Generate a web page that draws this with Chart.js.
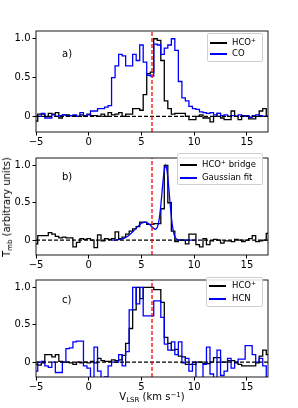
<!DOCTYPE html>
<html>
<head>
<meta charset="utf-8">
<script src="https://cdn.jsdelivr.net/npm/chart.js"></script>
<style>
  body { margin: 0; background: #fff; }
  #wrap { position: relative; width: 298px; height: 408px; overflow: hidden; font-family: "DejaVu Sans", sans-serif; color: #000; }
  canvas { position: absolute; left: 0; }
  .txt { position: absolute; white-space: nowrap; line-height: 1; }
  .lab { font-size: 10px; }
  .leg { position: absolute; border: 1px solid #d0d0d0; border-radius: 2px; background: rgba(255,255,255,0.85); box-sizing: border-box; }
  .ln { position: absolute; height: 1.5px; }
  .lt { position: absolute; font-size: 8.5px; line-height: 1; white-space: nowrap; }
  sup { font-size: 70%; vertical-align: 0.45em; line-height: 0; }
  sub { font-size: 70%; vertical-align: -0.25em; line-height: 0; }
</style>
</head>
<body>
<div id="wrap">
  <canvas id="ca" width="298" height="150" style="top:0px"></canvas>
  <canvas id="cb" width="298" height="122" style="top:150px"></canvas>
  <canvas id="cc" width="298" height="136" style="top:272px"></canvas>

  <div class="txt lab" style="left:62px;top:49px">a)</div>
  <div class="txt lab" style="left:62px;top:172px">b)</div>
  <div class="txt lab" style="left:62px;top:295px">c)</div>

  <div class="leg" style="left:207px;top:33px;width:56px;height:29px"></div>
  <div class="ln" style="left:210px;top:42px;width:17px;background:#000"></div>
  <div class="ln" style="left:210px;top:53px;width:17px;background:#0000ff"></div>
  <div class="lt" style="left:232px;top:38px">HCO<sup>+</sup></div>
  <div class="lt" style="left:232px;top:49px">CO</div>

  <div class="leg" style="left:177px;top:153px;width:86px;height:32px"></div>
  <div class="ln" style="left:180px;top:164px;width:17px;background:#000"></div>
  <div class="ln" style="left:180px;top:177px;width:17px;background:#0000ff"></div>
  <div class="lt" style="left:202px;top:160px">HCO<sup>+</sup> bridge</div>
  <div class="lt" style="left:202px;top:173px">Gaussian fit</div>

  <div class="leg" style="left:206px;top:277px;width:57px;height:30px"></div>
  <div class="ln" style="left:209px;top:285px;width:17px;background:#000"></div>
  <div class="ln" style="left:209px;top:298px;width:17px;background:#0000ff"></div>
  <div class="lt" style="left:232px;top:281px">HCO<sup>+</sup></div>
  <div class="lt" style="left:232px;top:294px">HCN</div>

  <div class="txt lab" style="left:7px;top:207px;transform:translate(-50%,-50%) rotate(-90deg)">T<sub>mb</sub> (arbitrary units)</div>
  <div class="txt lab" style="left:152px;top:392px;transform:translateX(-50%)">V<sub>LSR</sub> (km s<sup>&minus;1</sup>)</div>
</div>
<script>
// channel velocities (km/s)
const velocity = [-5.00,-4.67,-4.33,-4.00,-3.67,-3.33,-3.00,-2.67,-2.33,-2.00,-1.67,-1.33,-1.00,-0.67,-0.33,
  0.00,0.33,0.67,1.00,1.33,1.67,2.00,2.33,2.67,3.00,3.33,3.67,4.00,4.33,4.67,5.00,5.33,5.67,6.00,6.33,6.67,
  7.00,7.33,7.67,8.00,8.33,8.67,9.00,9.33,9.67,10.00,10.33,10.67,11.00,11.33,11.67,12.00,12.33,12.67,13.00,
  13.33,13.67,14.00,14.33,14.67,15.00,15.33,15.67,16.00,16.33,16.67,17.00];

// panel a
const hcoA = [-0.06,0.03,0.03,0.00,0.04,0.03,0.05,-0.02,0.02,0.02,0.01,0.01,0.00,0.02,0.00,
  0.03,0.01,0.01,0.00,0.03,0.00,0.05,0.02,0.03,0.05,0.00,0.03,0.03,0.10,0.10,0.08,0.28,0.55,0.57,1.00,0.98,
  0.72,0.20,0.10,0.03,0.04,0.04,0.04,0.00,-0.04,-0.04,0.00,0.02,-0.02,-0.02,-0.07,0.00,0.04,-0.02,-0.04,
  -0.04,0.07,0.00,-0.04,0.01,0.01,-0.03,-0.03,0.00,0.07,0.10,0.00];
const coA = [0.00,0.00,0.04,-0.02,-0.02,0.02,0.00,0.01,0.02,0.01,0.01,0.02,0.00,0.05,0.01,
  0.02,0.07,0.07,0.10,0.10,0.12,0.14,0.50,0.65,0.80,0.78,0.65,0.65,0.80,0.72,0.92,0.70,0.53,0.52,0.93,0.92,
  0.80,0.88,0.92,1.00,0.85,0.45,0.24,0.20,0.13,0.10,0.09,0.06,0.05,0.04,0.05,0.02,0.04,0.01,0.02,
  0.00,0.01,0.00,0.02,0.00,0.01,-0.01,0.01,0.02,0.01,0.00,0.00];

// panel b
const hcoBridge = [-0.05,0.06,0.06,0.06,0.10,0.08,0.05,0.03,0.04,0.03,0.03,-0.09,-0.03,0.02,0.01,
  0.02,0.00,-0.10,0.07,-0.01,0.02,0.01,0.02,0.11,0.02,0.04,0.08,0.12,0.15,0.18,0.24,0.24,0.21,0.21,0.22,0.22,
  0.42,1.00,0.50,0.12,-0.02,0.00,0.00,-0.05,0.08,0.08,-0.06,-0.09,0.02,-0.06,-0.01,0.01,0.00,-0.04,-0.01,
  -0.01,-0.02,0.01,0.00,-0.02,0.00,0.02,0.06,-0.02,-0.01,0.00,0.09];
const fitVel = [2.2,2.6,3.0,3.4,3.8,4.2,4.6,5.0,5.3,5.6,5.8,6.0,6.2,6.3,6.4,6.5,6.6,6.7,6.8,6.9,
  7.0,7.1,7.2,7.3,7.4,7.5,7.6,7.7,7.8,7.9,8.0,8.1,8.2,8.3,8.4,8.6,9.0,10.2];
const fitVal = [0.000,0.003,0.009,0.026,0.060,0.114,0.177,0.227,0.240,0.227,0.206,0.178,0.153,0.146,0.150,0.171,
  0.218,0.297,0.413,0.560,0.719,0.864,0.967,1.000,0.957,0.844,0.688,0.517,0.358,0.229,0.135,0.072,0.037,0.017,
  0.007,0.001,0.000,0.000];

// panel c
const hcoC = [-0.03,-0.04,-0.01,0.10,0.10,0.07,0.10,0.01,0.00,0.00,-0.01,-0.03,0.00,-0.01,0.00,
  -0.01,0.01,-0.01,0.05,0.02,0.01,0.01,0.03,0.02,0.03,0.09,0.25,0.45,0.70,1.00,0.85,1.00,1.00,1.00,0.97,0.97,
  0.80,0.33,0.25,0.16,0.17,0.08,0.07,-0.03,-0.03,-0.03,0.00,0.00,-0.02,-0.02,0.00,0.06,0.06,0.00,0.00,
  0.02,0.02,-0.01,-0.03,-0.05,-0.05,-0.05,-0.05,-0.01,0.08,0.16,0.10];
const hcnC = [-0.12,0.00,0.01,-0.05,-0.07,0.00,-0.14,-0.14,0.00,0.18,0.19,0.27,0.28,0.28,-0.05,
  -0.08,-0.22,0.20,-0.12,-0.22,-0.20,-0.05,0.00,0.00,0.10,-0.05,0.14,0.70,1.00,0.78,1.00,0.62,0.62,0.62,0.82,0.82,
  0.60,0.24,0.16,0.27,0.10,0.27,-0.01,0.05,-0.12,0.00,-0.22,-0.22,-0.03,0.20,-0.16,-0.22,0.16,-0.18,-0.12,
  0.05,-0.08,0.00,0.04,0.04,0.22,0.22,0.10,0.00,0.05,-0.05,-0.22];

const xTicks = [-5, 0, 5, 10, 15];
const yTicks = [0, 0.5, 1.0];
const vSys = 6;

const toXY = (xs, ys) => xs.map((x, k) => ({x: x, y: ys[k]}));

const frame = {
  id: 'frame',
  afterDraw(chart) {
    const a = chart.chartArea, ctx = chart.ctx;
    ctx.save();
    ctx.strokeStyle = '#000';
    ctx.lineWidth = 0.9;
    ctx.strokeRect(a.left, a.top, a.right - a.left, a.bottom - a.top);
    ctx.restore();
  }
};

function makePanel(id, lines, padTop, xHeight) {
  const datasets = [
    {data: [{x: vSys, y: -0.2}, {x: vSys, y: 1.1}], borderColor: '#ff0000', borderWidth: 1.3, borderDash: [4, 2], order: 0},
    {data: [{x: -5, y: 0}, {x: 17, y: 0}], borderColor: '#000', borderWidth: 1.2, borderDash: [4, 2], order: 1}
  ];
  lines.forEach((l, k) => datasets.push({
    data: l.data, borderColor: l.color, borderWidth: 1.3, stepped: l.stepped ? 'middle' : false,
    tension: 0, order: 10 - k
  }));
  new Chart(document.getElementById(id), {
    type: 'line',
    data: {datasets},
    options: {
      responsive: false, animation: false, devicePixelRatio: 1,
      layout: {padding: {left: 0, right: 30, top: padTop, bottom: 0}},
      plugins: {legend: {display: false}, tooltip: {enabled: false}},
      elements: {point: {radius: 0}},
      scales: {
        x: {
          type: 'linear', min: -5, max: 17,
          afterBuildTicks: s => { s.ticks = xTicks.map(v => ({value: v})); },
          afterFit: s => { s.height = xHeight; },
          ticks: {color: '#000', font: {family: 'DejaVu Sans', size: 10}, padding: 1, maxRotation: 0, autoSkip: false,
            callback: v => (v < 0 ? '\u2212' + Math.abs(v) : String(v))},
          grid: {drawOnChartArea: false, tickLength: 3.5, color: '#000'},
          border: {display: false}
        },
        y: {
          type: 'linear', min: -0.2, max: 1.1,
          afterBuildTicks: s => { s.ticks = yTicks.map(v => ({value: v})); },
          afterFit: s => { s.width = 36; },
          ticks: {color: '#000', font: {family: 'DejaVu Sans', size: 10}, padding: 2,
            callback: v => (v === 0 ? '0' : v.toFixed(1))},
          grid: {drawOnChartArea: false, tickLength: 3.5, color: '#000'},
          border: {display: false}
        }
      }
    },
    plugins: [frame]
  });
}

makePanel('ca', [
  {data: toXY(velocity, hcoA), color: '#000', stepped: true},
  {data: toXY(velocity, coA), color: '#0000ff', stepped: true}
], 31, 18);

makePanel('cb', [
  {data: toXY(velocity, hcoBridge), color: '#000', stepped: true},
  {data: toXY(fitVel, fitVal), color: '#0000ff', stepped: false}
], 3, 17);

makePanel('cc', [
  {data: toXY(velocity, hcoC), color: '#000', stepped: true},
  {data: toXY(velocity, hcnC), color: '#0000ff', stepped: true}
], 3, 31);
</script>
</body>
</html>
